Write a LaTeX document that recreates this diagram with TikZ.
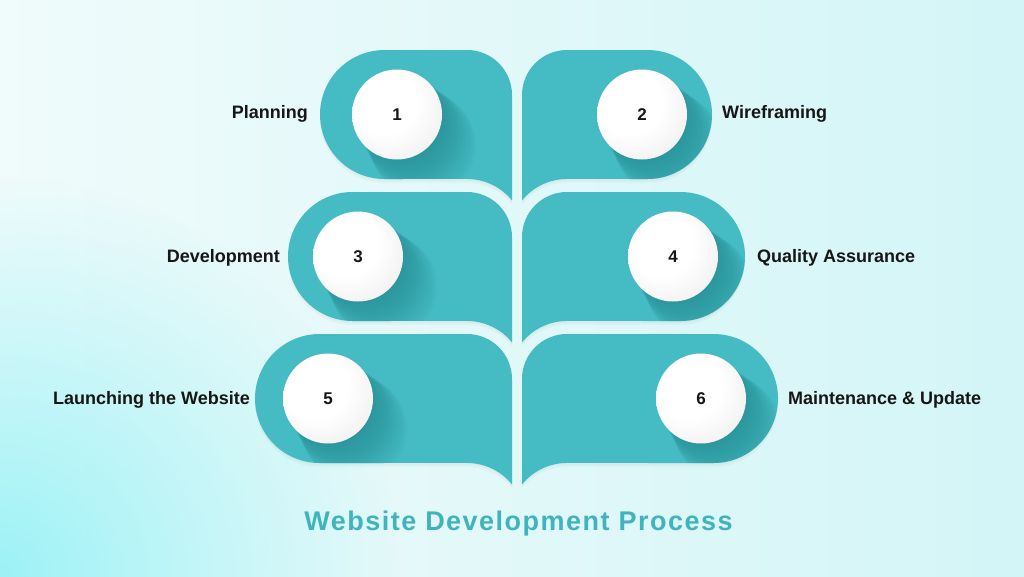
\documentclass[tikz,border=0pt]{standalone}
\usepackage{fontspec}
\setmainfont{Liberation Sans}
\newfontfamily\titlefont[LetterSpace=5.5]{Liberation Sans}
\usetikzlibrary{fadings}

\definecolor{leafteal}{HTML}{45BCC3}
\definecolor{leafdark}{HTML}{1F7E85}
\definecolor{ink}{HTML}{161616}
\definecolor{titleteal}{HTML}{40B4BC}
\definecolor{bgleft}{HTML}{F0FBFB}
\definecolor{bgright}{HTML}{D3F5F7}
\definecolor{bgglow}{HTML}{9CF2F6}

\pgfdeclareradialshading{knobshade}{\pgfpoint{-10bp}{10bp}}{%
  color(0bp)=(white); color(18bp)=(white); color(32bp)=(white!95!black);
  color(44bp)=(white!89!black); color(60bp)=(white!80!black)}
\tikzfading[name=glow, inner color=transparent!0, outer color=transparent!100]

\newcommand{\leftleaf}[2]{(512,#2+150.4) arc[start angle=320.9,end angle=270,radius=58]
  -- (#1+64.5,#2+129) arc[start angle=90,end angle=270,radius=64.5]
  -- (467,#2) arc[start angle=270,end angle=360,radius=45] -- cycle}
\newcommand{\rightleaf}[2]{(522,#2+150.4) arc[start angle=219.1,end angle=270,radius=58]
  -- (#1-64.5,#2+129) arc[start angle=90,end angle=-90,radius=64.5]
  -- (567,#2) arc[start angle=270,end angle=180,radius=45] -- cycle}
\newcommand{\knobshadow}[2]{\foreach \k in {1,...,14}
  \fill[leafdark, opacity=0.055] (#1+\k*1.9,#2+\k*2.2) circle ({43+\k*0.7});}

\tikzset{
  leaf/.style={fill=leafteal},
  leafshadow/.style={fill=black, opacity=0.025},
  knob/.style={circle, minimum size=90pt, inner sep=0pt, shading=knobshade,
    text=ink, font=\bfseries\fontsize{17}{20}\selectfont},
  lbl/.style={text=ink, inner sep=0pt, font=\bfseries\fontsize{18}{20}\selectfont},
}

\begin{document}
\begin{tikzpicture}[x=1pt,y=-1pt]
  \useasboundingbox (0,0) rectangle (1024,576);
  \shade[left color=bgleft, right color=bgright] (0,0) rectangle (1024,576);
  \fill[bgglow, path fading=glow] (0,576) circle (400);

  \foreach \d in {2,4} {
    \fill[leafshadow, shift={(0,\d)}] \leftleaf{320}{50};
    \fill[leafshadow, shift={(0,\d)}] \leftleaf{288}{192};
    \fill[leafshadow, shift={(0,\d)}] \leftleaf{255}{334};
    \fill[leafshadow, shift={(0,\d)}] \rightleaf{712}{50};
    \fill[leafshadow, shift={(0,\d)}] \rightleaf{745}{192};
    \fill[leafshadow, shift={(0,\d)}] \rightleaf{778}{334};
  }

  \fill[leaf] \leftleaf{320}{50};
  \fill[leaf] \leftleaf{288}{192};
  \fill[leaf] \leftleaf{255}{334};
  \fill[leaf] \rightleaf{712}{50};
  \fill[leaf] \rightleaf{745}{192};
  \fill[leaf] \rightleaf{778}{334};

  \begin{scope}
    \clip \leftleaf{320}{50};
    \knobshadow{397}{114.5}
  \end{scope}
  \begin{scope}
    \clip \rightleaf{712}{50};
    \knobshadow{642}{114.5}
  \end{scope}
  \begin{scope}
    \clip \leftleaf{288}{192};
    \knobshadow{358}{256.5}
  \end{scope}
  \begin{scope}
    \clip \rightleaf{745}{192};
    \knobshadow{673}{256.5}
  \end{scope}
  \begin{scope}
    \clip \leftleaf{255}{334};
    \knobshadow{328}{398.5}
  \end{scope}
  \begin{scope}
    \clip \rightleaf{778}{334};
    \knobshadow{701}{398.5}
  \end{scope}

  \node[knob] (n1) at (397,114.5) {1};
  \node[knob] (n2) at (642,114.5) {2};
  \node[knob] (n3) at (358,256.5) {3};
  \node[knob] (n4) at (673,256.5) {4};
  \node[knob] (n5) at (328,398.5) {5};
  \node[knob] (n6) at (701,398.5) {6};

  \node[lbl, anchor=base east] (planning) at (308,118.3) {Planning};
  \node[lbl, anchor=base west] (wireframing) at (722,118.3) {Wireframing};
  \node[lbl, anchor=base east] (development) at (280,262.3) {Development};
  \node[lbl, anchor=base west] (quality) at (757,262.3) {Quality Assurance};
  \node[lbl, anchor=base east] (launching) at (250,404.3) {Launching the Website};
  \node[lbl, anchor=base west] (maintenance) at (788,404.3) {Maintenance \& Update};

  \node[anchor=base, text=titleteal, inner sep=0pt,
    font=\titlefont\bfseries\fontsize{27}{30}\selectfont] (title) at (518.5,530)
    {Website Development Process};
\end{tikzpicture}
\end{document}
